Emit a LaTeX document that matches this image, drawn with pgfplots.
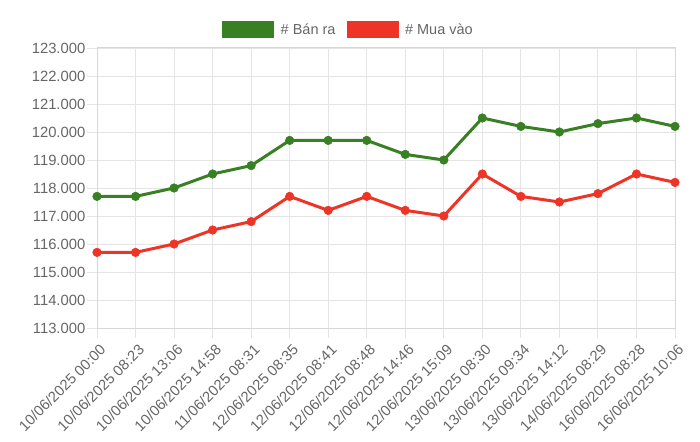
\documentclass[border=0pt]{standalone}
\usepackage{pgfplots}
\pgfplotsset{compat=1.18}
\usepackage{fontspec}
\setmainfont{Liberation Sans}
\definecolor{gbuy}{RGB}{56,128,35}
\definecolor{rsell}{RGB}{238,52,38}
\definecolor{gridc}{RGB}{228,228,228}
\definecolor{axc}{RGB}{215,215,215}
\definecolor{txt}{RGB}{102,102,102}
\begin{document}
\begin{tikzpicture}
\useasboundingbox (0,0) rectangle (700bp,442bp);
\begin{axis}[
  at={(97bp,114bp)}, anchor=south west,
  scale only axis, width=578bp, height=280bp,
  xmin=0, xmax=15, ymin=113000, ymax=123000,
  xtick={0,...,15},
  xticklabels={10/06/2025 00:00,10/06/2025 08:23,10/06/2025 13:06,10/06/2025 14:58,11/06/2025 08:31,12/06/2025 08:35,12/06/2025 08:41,12/06/2025 08:48,12/06/2025 14:46,12/06/2025 15:09,13/06/2025 08:30,13/06/2025 09:34,13/06/2025 14:12,14/06/2025 08:29,16/06/2025 08:28,16/06/2025 10:06},
  ytick={113000,114000,...,123000},
  scaled y ticks=false,
  yticklabel style={/pgf/number format/fixed, /pgf/number format/1000 sep={.}, /pgf/number format/assume math mode=true},
  grid=major, grid style={gridc, line width=0.9bp},
  axis line style={axc, line width=1bp},
  tick align=outside, major tick length=10bp,
  xtick pos=bottom, ytick pos=left,
  tick style={gridc, line width=0.9bp},
  ticklabel style={font=\fontsize{14.8bp}{17bp}\selectfont, text=txt},
  xticklabel style={inner sep=0pt, xshift=2bp, yshift=-5bp, rotate=45, anchor=north east},
  yticklabel style={inner sep=0pt, xshift=-1.5bp, anchor=east},
  clip=false,
  legend columns=2,
  legend style={at={(rel axis cs:0.4334,1.0643)}, anchor=center, draw=none, fill=none,
    font=\fontsize{14.5bp}{16bp}\selectfont, text=txt,
    /tikz/every odd column/.append style={column sep=6.5bp},
    /tikz/every even column/.append style={column sep=11bp},
    nodes={inner sep=0pt}},
  legend image code/.code={\fill[#1,draw=none] (0bp,-8.5bp) rectangle (52bp,8.5bp);},
]
\addplot[gbuy, line width=3bp, mark=*, mark size=4.3bp, mark options={solid, line width=0.5bp}] coordinates {
(0,117700) (1,117700) (2,118000) (3,118500) (4,118800) (5,119700) (6,119700) (7,119700)
(8,119200) (9,119000) (10,120500) (11,120200) (12,120000) (13,120300) (14,120500) (15,120200)};
\addlegendentry{\# Bán ra}
\addplot[rsell, line width=3bp, mark=*, mark size=4.3bp, mark options={solid, line width=0.5bp}] coordinates {
(0,115700) (1,115700) (2,116000) (3,116500) (4,116800) (5,117700) (6,117200) (7,117700)
(8,117200) (9,117000) (10,118500) (11,117700) (12,117500) (13,117800) (14,118500) (15,118200)};
\addlegendentry{\# Mua vào}
\end{axis}
\end{tikzpicture}
\end{document}
